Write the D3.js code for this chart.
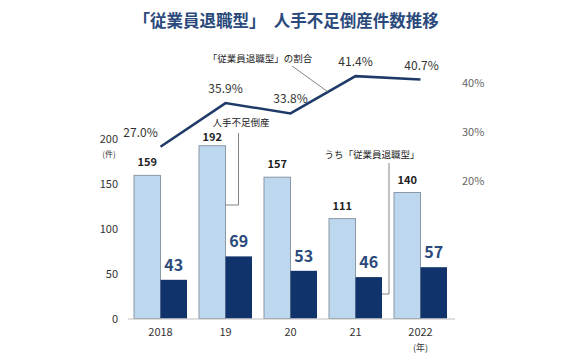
<!DOCTYPE html>
<html><head><meta charset="utf-8">
<script src="https://cdn.jsdelivr.net/npm/d3@7"></script>
<style>body{margin:0;background:#fff;}svg{display:block;font-family:"Noto Sans CJK JP","Noto Sans",sans-serif;}</style>
</head><body><svg id="c" width="580" height="360"></svg>
<script>
const years = ["2018","19","20","21","2022"];
const totalCases = [159,192,157,111,140];
const retireCases = [43,69,53,46,57];
const retireShare = [27.0,35.9,33.8,41.4,40.7];
const leftTicks = [0,50,100,150,200];
const rightTicks = [20,30,40];

const svg = d3.select("#c");
const x = d3.scaleBand().domain(years).range([128,453]).paddingInner(0).paddingOuter(0);
const y = d3.scaleLinear().domain([0,200]).range([318.5,138.5]);
const yr = d3.scaleLinear().domain([20,40]).range([181,83]);
const bw = 26.5;

// title
svg.append("text").attr("x",286).attr("y",27).attr("text-anchor","middle")
  .attr("font-size",16.5).attr("font-weight","bold").attr("fill","#2b4a7c")
  .text("「従業員退職型」　人手不足倒産件数推移");

// light bars
svg.selectAll(".lb").data(years).enter().append("rect")
  .attr("x",d=>x(d)+x.bandwidth()/2-bw).attr("width",bw)
  .attr("y",(d,i)=>y(totalCases[i])).attr("height",(d,i)=>y(0)-y(totalCases[i]))
  .attr("fill","#bdd7ee").attr("stroke","#8a98a8").attr("stroke-width",1);
// dark bars
svg.selectAll(".db").data(years).enter().append("rect")
  .attr("x",d=>x(d)+x.bandwidth()/2).attr("width",bw)
  .attr("y",(d,i)=>y(retireCases[i])).attr("height",(d,i)=>y(0)-y(retireCases[i]))
  .attr("fill","#10336b");

// baseline
svg.append("line").attr("x1",128).attr("x2",455).attr("y1",y(0)+0.5).attr("y2",y(0)+0.5)
  .attr("stroke","#bfbfbf").attr("stroke-width",1);

// left axis labels
svg.selectAll(".lt").data(leftTicks).enter().append("text")
  .attr("x",118).attr("y",d=>y(d)+4).attr("text-anchor","end")
  .attr("font-size",11).attr("fill","#333").text(d=>d);
svg.append("text").attr("x",109).attr("y",157).attr("text-anchor","middle")
  .attr("font-size",8).attr("fill","#333").text("(件)");

// right axis labels
svg.selectAll(".rt").data(rightTicks).enter().append("text")
  .attr("x",462).attr("y",d=>yr(d)+4).attr("text-anchor","start")
  .attr("font-size",11).attr("fill","#666").text(d=>d+"%");

// x labels
svg.selectAll(".xl").data(years).enter().append("text")
  .attr("x",d=>x(d)+x.bandwidth()/2).attr("y",336).attr("text-anchor","middle")
  .attr("font-size",11).attr("fill","#333").text(d=>d);
svg.append("text").attr("x",x("2022")+x.bandwidth()/2).attr("y",351).attr("text-anchor","middle")
  .attr("font-size",9).attr("fill","#333").text("(年)");

// bar value labels
svg.selectAll(".lv").data(years).enter().append("text")
  .attr("x",d=>x(d)+x.bandwidth()/2-bw/2).attr("y",(d,i)=>y(totalCases[i])-(i===1?5:9))
  .attr("text-anchor","middle").attr("font-size",11).attr("font-weight","bold").attr("fill","#222")
  .text((d,i)=>totalCases[i]);
svg.selectAll(".dv").data(years).enter().append("text")
  .attr("x",d=>x(d)+x.bandwidth()/2+bw/2).attr("y",(d,i)=>y(retireCases[i])-9)
  .attr("text-anchor","middle").attr("font-size",16).attr("font-weight","bold").attr("fill","#2b4a7c")
  .text((d,i)=>retireCases[i]);

// line
const line = d3.line().x(d=>x(d.k)+x.bandwidth()/2).y(d=>yr(d.v));
const pts = years.map((k,i)=>({k,v:retireShare[i]}));
svg.append("path").datum(pts).attr("d",line).attr("fill","none")
  .attr("stroke","#1f3a68").attr("stroke-width",2.5);
svg.selectAll(".pl").data(pts).enter().append("text")
  .attr("x",(d,i)=>x(d.k)+x.bandwidth()/2-(i===0?20:(i===4?-1:0)))
  .attr("y",d=>yr(d.v)-10)
  .attr("text-anchor","middle").attr("font-size",12).attr("fill","#333")
  .text(d=>d.v.toFixed(1)+"%");

// annotations
const ann = svg.append("g").attr("fill","none").attr("stroke","#666").attr("stroke-width",0.8);
svg.append("text").attr("x",260).attr("y",62).attr("text-anchor","middle")
  .attr("font-size",9.5).attr("fill","#222").text("「従業員退職型」の割合");
const ax = 328, ayFrac = (ax-(x("20")+x.bandwidth()/2))/x.bandwidth();
const ay = yr(retireShare[2]) + (yr(retireShare[3])-yr(retireShare[2]))*ayFrac;
ann.append("line").attr("x1",292).attr("y1",66).attr("x2",ax).attr("y2",ay);

svg.append("text").attr("x",241).attr("y",126).attr("text-anchor","middle")
  .attr("font-size",9.5).attr("fill","#222").text("人手不足倒産");
const x19 = x("19")+x.bandwidth()/2;
ann.append("polyline").attr("points",`${x19+13},133 ${x19+13},205 ${x19},205`);

svg.append("text").attr("x",372).attr("y",158).attr("text-anchor","middle")
  .attr("font-size",9.5).attr("fill","#222").text("うち「従業員退職型」");
const x21 = x("21")+x.bandwidth()/2+bw;
ann.append("polyline").attr("points",`${x21+7},163 ${x21+7},294 ${x21},294`);
</script></body></html>
